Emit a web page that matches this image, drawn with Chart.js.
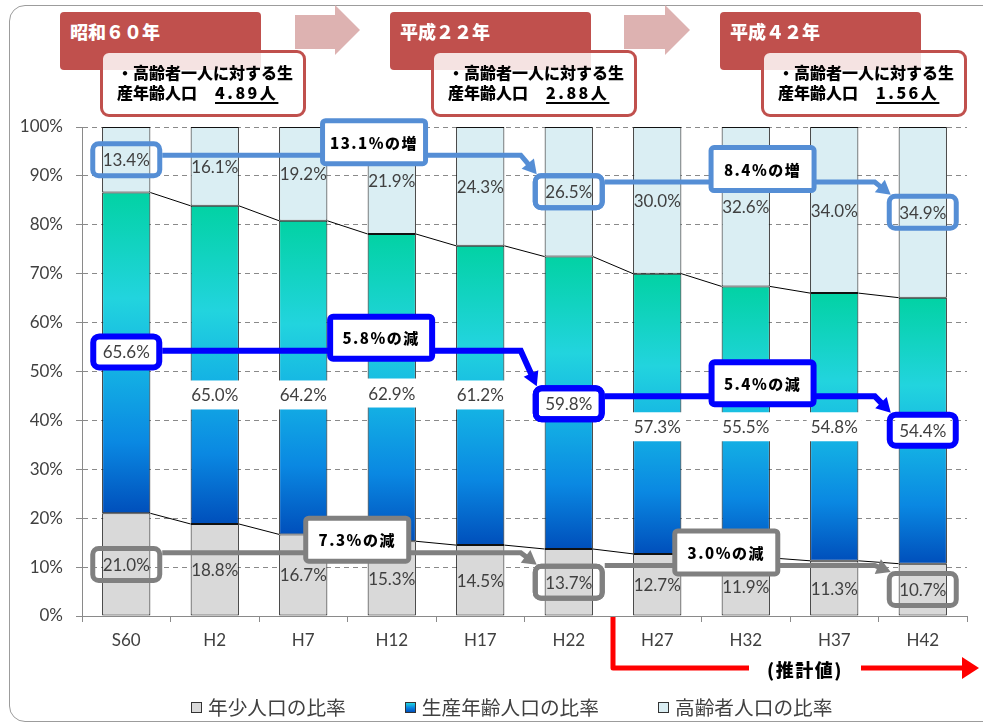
<!DOCTYPE html>
<html><head><meta charset="utf-8">
<script src="https://cdn.jsdelivr.net/npm/chart.js@4.4.1/dist/chart.umd.min.js"></script>
<style>
html,body{margin:0;padding:0;background:#fff;}
#wrap{position:relative;width:983px;height:726px;overflow:hidden;font-family:"Noto Sans CJK JP",sans-serif;}
#frame{position:absolute;left:9px;top:5px;width:1010px;height:717px;border:1.5px solid #9c9c9c;border-radius:16px;box-sizing:border-box;}
canvas{position:absolute;left:0;top:0;}
.era{position:absolute;top:12px;height:58px;width:201px;background:#C0504D;border-radius:4px;color:#fff;font-weight:900;font-size:18px;line-height:22px;}
.era span{position:absolute;left:10px;top:8px;white-space:nowrap;}
.info{position:absolute;top:50px;height:67px;width:206px;background:rgba(255,255,255,0.84);border:3px solid #C0504D;border-radius:9px;box-sizing:border-box;font-weight:900;font-size:16px;color:#000;line-height:20px;padding:9px 0 0 14px;white-space:nowrap;}
.info u{margin-left:18px;letter-spacing:2.5px;text-decoration-thickness:1.5px;text-underline-offset:3px;}
#arrows{position:absolute;left:0;top:0;}
#legend{position:absolute;left:191px;top:695px;display:flex;gap:59px;font-size:19.7px;color:#404040;line-height:24px;white-space:nowrap;}
#legend .li{display:flex;align-items:center;}
#legend i{display:inline-block;width:9px;height:9px;border:1px solid #333;margin-right:6px;}
</style></head>
<body>
<div id="wrap">
  <div id="frame"></div>
  <canvas id="c" width="983" height="726"></canvas>
  <svg id="arrows" width="983" height="60">
    <polygon points="295,15 335,15 335,5 360,30 335,55 335,49 295,49" fill="#DDB2B1"/>
    <polygon points="624,15 665,15 665,5 690,30 665,55 665,49 624,49" fill="#DDB2B1"/>
  </svg>
  <div class="era" style="left:60px"><span>昭和６０年</span></div>
  <div class="era" style="left:390px"><span>平成２２年</span></div>
  <div class="era" style="left:720px"><span>平成４２年</span></div>
  <div class="info" style="left:100px">・高齢者一人に対する生<br>産年齢人口<u>4.89人</u></div>
  <div class="info" style="left:431px">・高齢者一人に対する生<br>産年齢人口<u>2.88人</u></div>
  <div class="info" style="left:761px">・高齢者一人に対する生<br>産年齢人口<u>1.56人</u></div>
  <div id="legend"></div>
</div>
<script>
// ---- data ----
const categories = ['S60','H2','H7','H12','H17','H22','H27','H32','H37','H42'];
const youngShare   = [21.0,18.8,16.7,15.3,14.5,13.7,12.7,11.9,11.3,10.7];
const workingShare = [65.6,65.0,64.2,62.9,61.2,59.8,57.3,55.5,54.8,54.4];
const elderlyShare = [13.4,16.1,19.2,21.9,24.3,26.5,30.0,32.6,34.0,34.9];
const seriesNames  = ['年少人口の比率','生産年齢人口の比率','高齢者人口の比率'];
const yTickValues  = [0,10,20,30,40,50,60,70,80,90,100];
// where the working-age labels sit (value units, as placed in the original)
const workingLabelAt = [54.0,45.2,45.2,45.6,45.2,43.4,38.7,38.7,38.7,38.0];
// trend callouts: series, from index, to index, text, callout position [category, value]
const trendNotes = [
  {s:2, from:0, to:5, text:'13.1%の増', at:[2.80,96.9], color:'#558ED5', lw:5},
  {s:2, from:5, to:9, text:'8.4%の増',  at:[7.19,91.4], color:'#558ED5', lw:5},
  {s:1, from:0, to:5, text:'5.8%の減',  at:[2.88,56.9], color:'#0000FF', lw:6},
  {s:1, from:5, to:9, text:'5.4%の減',  at:[7.19,47.6], color:'#0000FF', lw:6},
  {s:0, from:0, to:5, text:'7.3%の減',  at:[2.61,15.6], color:'#808080', lw:5},
  {s:0, from:5, to:9, text:'3.0%の減',  at:[6.78,13.0], color:'#808080', lw:5}
];
const forecastLabel = '(推計値)';
const forecastFrom = 5.5;

// 100% stacked (normalised) plotting values
const totals = categories.map((_, i) => youngShare[i] + workingShare[i] + elderlyShare[i]);
const norm = arr => arr.map((v, i) => v / totals[i] * 100);
const plotted = [norm(youngShare), norm(workingShare), norm(elderlyShare)];
const rawSeries = [youngShare, workingShare, elderlyShare];

const NUMFONT = '17px Lato';
const JPBOLD = '"Noto Sans CJK JP", sans-serif';

function workingGradient(ctx) {
  const chart = ctx.chart;
  if (!chart.chartArea || ctx.type !== 'data') return '#14B4E4';
  const i = ctx.dataIndex;
  const y = chart.scales.y;
  const top = y.getPixelForValue(plotted[0][i] + plotted[1][i]);
  const bot = y.getPixelForValue(plotted[0][i]);
  const g = chart.ctx.createLinearGradient(0, top, 0, bot);
  g.addColorStop(0, '#02D2A4');
  g.addColorStop(0.33, '#22D4DE');
  g.addColorStop(0.55, '#14B2E4');
  g.addColorStop(0.78, '#0A88E2');
  g.addColorStop(1, '#004FBB');
  return g;
}

function labelPos(chart, s, i) {
  const el = chart.getDatasetMeta(s).data[i];
  if (s === 1) return {x: el.x, y: chart.scales.y.getPixelForValue(workingLabelAt[i])};
  return {x: el.x, y: (el.y + el.base) / 2};
}

function rrect(ctx, x, y, w, h, r) {
  ctx.beginPath();
  ctx.moveTo(x + r, y);
  ctx.arcTo(x + w, y, x + w, y + h, r);
  ctx.arcTo(x + w, y + h, x, y + h, r);
  ctx.arcTo(x, y + h, x, y, r);
  ctx.arcTo(x, y, x + w, y, r);
  ctx.closePath();
}

const overlay = {
  id: 'overlay',
  afterDatasetsDraw(chart) {
    const ctx = chart.ctx;
    ctx.save();
    // series lines
    ctx.strokeStyle = '#000'; ctx.lineWidth = 1;
    [0, 1].forEach(s => {
      const els = chart.getDatasetMeta(s).data;
      for (let i = 0; i < els.length - 1; i++) {
        const a = els[i], b = els[i + 1];
        ctx.beginPath();
        ctx.moveTo(a.x + a.width / 2, a.y);
        ctx.lineTo(b.x - b.width / 2, b.y);
        ctx.stroke();
      }
    });
    // data labels
    ctx.font = NUMFONT;
    ctx.textAlign = 'center';
    ctx.textBaseline = 'middle';
    [0, 1, 2].forEach(s => {
      rawSeries[s].forEach((v, i) => {
        const t = v.toFixed(1) + '%';
        const p = labelPos(chart, s, i);
        if (s === 1) {
          const w = ctx.measureText(t).width + 8;
          ctx.fillStyle = '#fff';
          ctx.fillRect(p.x - w / 2, p.y - 14.5, w, 29);
        }
        ctx.fillStyle = '#404040';
        ctx.fillText(t, p.x, p.y + 1);
      });
    });
    ctx.restore();
  },
  afterDraw(chart) {
    const ctx = chart.ctx;
    const xs = chart.scales.x, ys = chart.scales.y;
    const BW = 72, BH = 37, CW = 108, CH = 48;
    ctx.save();
    // connectors
    trendNotes.forEach(n => {
      const src = labelPos(chart, n.s, n.from);
      const tgt = labelPos(chart, n.s, n.to);
      const cy = ys.getPixelForValue(n.at[1]);
      const ly = cy + 13;
      const tip = {x: tgt.x - BW / 2 + 4, y: tgt.y - BH / 2 + 1};
      const bend = {x: tip.x - 16, y: ly};
      const dx = tip.x - bend.x, dy = tip.y - bend.y;
      const len = Math.hypot(dx, dy);
      const ux = dx / len, uy = dy / len;
      const AL = 14, AW = 8;
      ctx.strokeStyle = n.color; ctx.fillStyle = n.color;
      ctx.lineWidth = n.lw; ctx.lineJoin = 'miter';
      ctx.beginPath();
      ctx.moveTo(src.x + BW / 2, ly);
      ctx.lineTo(bend.x, bend.y);
      ctx.lineTo(tip.x - ux * AL * 0.8, tip.y - uy * AL * 0.8);
      ctx.stroke();
      ctx.beginPath();
      ctx.moveTo(tip.x, tip.y);
      ctx.lineTo(tip.x - ux * AL - uy * AW, tip.y - uy * AL + ux * AW);
      ctx.lineTo(tip.x - ux * AL + uy * AW, tip.y - uy * AL - ux * AW);
      ctx.closePath();
      ctx.fill();
    });
    // label boxes
    trendNotes.forEach(n => {
      [n.from, n.to].forEach(i => {
        const p = labelPos(chart, n.s, i);
        ctx.strokeStyle = n.color; ctx.lineWidth = n.lw;
        rrect(ctx, p.x - BW / 2 + n.lw / 2, p.y - BH / 2 + n.lw / 2, BW - n.lw, BH - n.lw, 6);
        ctx.stroke();
      });
    });
    // callout boxes
    ctx.textAlign = 'center'; ctx.textBaseline = 'middle';
    trendNotes.forEach(n => {
      const cx = xs.getPixelForValue(n.at[0]);
      const cy = ys.getPixelForValue(n.at[1]);
      rrect(ctx, cx - CW / 2 + n.lw / 2, cy - CH / 2 + n.lw / 2, CW - n.lw, CH - n.lw, 3);
      ctx.fillStyle = '#fff'; ctx.fill();
      ctx.strokeStyle = n.color; ctx.lineWidth = n.lw; ctx.stroke();
      ctx.fillStyle = '#000';
      ctx.font = '900 15px ' + JPBOLD;
      ctx.letterSpacing = '1.5px';
      ctx.fillText(n.text, cx, cy + 1);
      ctx.letterSpacing = '0px';
    });
    // forecast bracket
    const bx = xs.getPixelForValue(forecastFrom);
    const by = chart.chartArea.bottom + 52;
    const tcx = 805;
    ctx.strokeStyle = '#FF0000'; ctx.fillStyle = '#FF0000'; ctx.lineWidth = 5;
    ctx.lineJoin = 'round';
    ctx.beginPath();
    ctx.moveTo(bx, chart.chartArea.bottom + 1);
    ctx.lineTo(bx, by);
    ctx.lineTo(tcx - 56, by);
    ctx.stroke();
    ctx.beginPath();
    ctx.moveTo(tcx + 56, by);
    ctx.lineTo(964, by);
    ctx.stroke();
    ctx.beginPath();
    ctx.moveTo(979, by); ctx.lineTo(962, by - 11); ctx.lineTo(962, by + 11); ctx.closePath(); ctx.fill();
    ctx.fillStyle = '#000';
    ctx.font = '900 18px ' + JPBOLD;
    ctx.letterSpacing = '1.5px';
    ctx.fillText(forecastLabel, tcx, by + 2);
    ctx.restore();
  }
};

new Chart(document.getElementById('c'), {
  type: 'bar',
  data: {
    labels: categories,
    datasets: [
      {label: seriesNames[0], data: plotted[0], backgroundColor: '#D9D9D9'},
      {label: seriesNames[1], data: plotted[1], backgroundColor: workingGradient},
      {label: seriesNames[2], data: plotted[2], backgroundColor: '#DAEEF3'}
    ].map(d => Object.assign(d, {borderColor: '#111', borderWidth: 1, borderSkipped: false,
                                  barPercentage: 0.545, categoryPercentage: 1}))
  },
  options: {
    responsive: false,
    animation: false,
    events: [],
    layout: {padding: {top: 127, right: 16, bottom: 0, left: 0}},
    plugins: {legend: {display: false}, tooltip: {enabled: false}},
    scales: {
      x: {
        stacked: true,
        grid: {display: true, drawOnChartArea: false, drawTicks: true, tickLength: 6, color: '#8a8a8a', offset: true},
        border: {display: true, color: '#8a8a8a', width: 1},
        ticks: {font: {family: 'Lato', size: 17}, color: '#404040', padding: 8},
        afterFit: s => { s.height = 110; }
      },
      y: {
        stacked: true, min: 0, max: 100,
        afterBuildTicks: s => { s.ticks = yTickValues.map(v => ({value: v})); },
        ticks: {callback: v => v + '%', font: {family: 'Lato', size: 17}, color: '#404040', padding: 13},
        grid: {color: '#8a8a8a', lineWidth: 1, tickLength: 6},
        border: {display: true, color: '#8a8a8a', width: 1, dash: [5, 4]},
        afterFit: s => { s.width = 82; }
      }
    }
  },
  plugins: [overlay]
});

// legend
const legendFills = ['#D9D9D9', 'linear-gradient(#22D4DE,#0A88E2,#004FBB)', '#DAEEF3'];
document.getElementById('legend').innerHTML = seriesNames.map((n, i) =>
  `<div class="li"><i style="background:${legendFills[i]}"></i><span>${n}</span></div>`).join('');
</script>
</body></html>
